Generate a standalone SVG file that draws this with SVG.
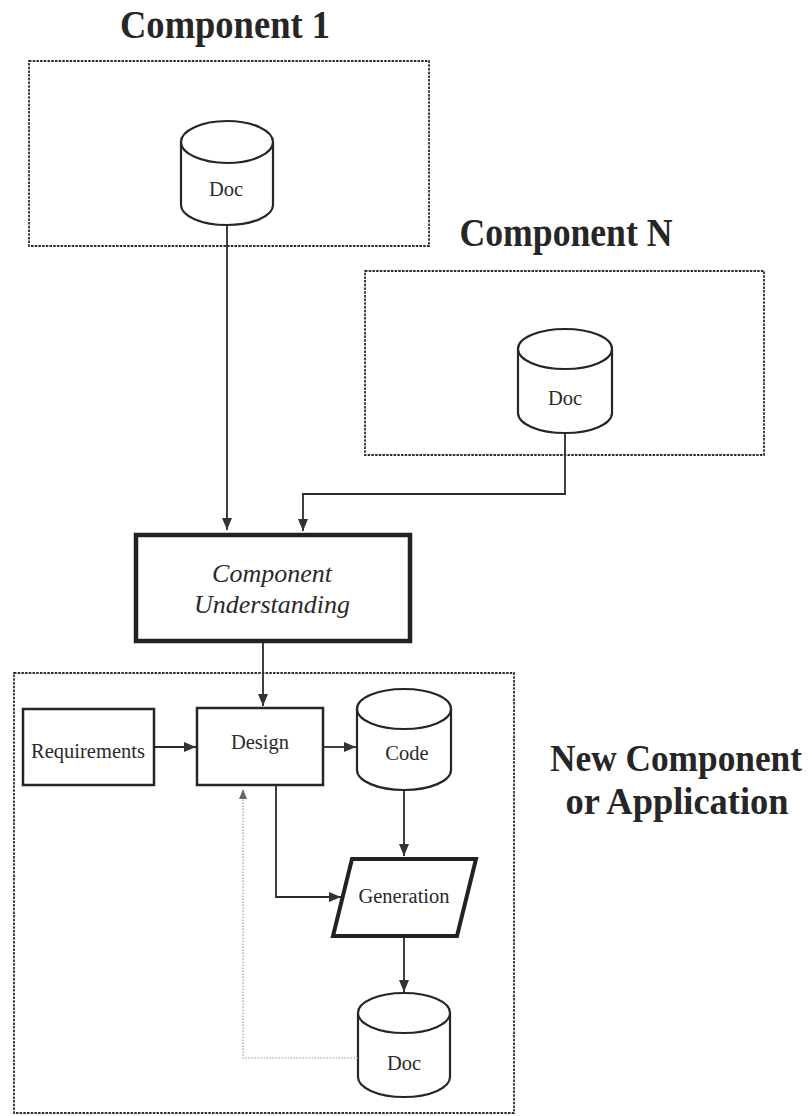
<svg xmlns="http://www.w3.org/2000/svg" width="812" height="1116" viewBox="0 0 812 1116">
  <style>
    .title { font-family: "Liberation Serif", "Times New Roman", serif; font-weight: bold; font-size: 40px; fill: #262626; text-anchor: middle; }
    .title2 { font-family: "Liberation Serif", "Times New Roman", serif; font-weight: bold; font-size: 37px; fill: #262626; text-anchor: middle; }
    .label { font-family: "Liberation Serif", "Times New Roman", serif; font-size: 20.5px; fill: #2a2a2a; text-anchor: middle; }
    .ital { font-family: "Liberation Serif", "Times New Roman", serif; font-style: italic; font-size: 26px; fill: #2a2a2a; text-anchor: middle; }
    .group { fill: none; stroke: #2e2e2e; stroke-width: 1.8; stroke-dasharray: 2.5 1.2; }
    .box { fill: #fff; stroke: #262626; stroke-width: 2.5; }
    .thick { fill: #fff; stroke: #222; stroke-width: 4.5; }
    .cyl { fill: #fff; stroke: #262626; stroke-width: 2.2; }
    .wire { fill: none; stroke: #2a2a2a; stroke-width: 1.8; }
    .back { fill: none; stroke: #9a9a9a; stroke-width: 1.2; stroke-dasharray: 1.5 1.5; }
  </style>
  <defs>
    <marker id="arrow" viewBox="0 0 12 10" refX="12" refY="5" markerWidth="12" markerHeight="10" markerUnits="userSpaceOnUse" orient="auto">
      <path d="M0,0 L12,5 L0,10 z" fill="#333"/>
    </marker>
    <marker id="arrowGrey" viewBox="0 0 10 8" refX="10" refY="4" markerWidth="10" markerHeight="8" markerUnits="userSpaceOnUse" orient="auto">
      <path d="M0,0 L10,4 L0,8 z" fill="#666"/>
    </marker>
  </defs>
  <rect width="812" height="1116" fill="#fff"/>

  <!-- Component 1 -->
  <g id="component-1">
    <text class="title" x="225" y="38" textLength="210" lengthAdjust="spacingAndGlyphs">Component 1</text>
    <rect class="group" x="29" y="61" width="400" height="185"/>
  </g>
  <g id="doc-1">
    <path class="cyl" d="M181,142 L181,205 A46,20 0 0 0 273,205 L273,142"/>
    <ellipse class="cyl" cx="227" cy="142" rx="46" ry="21"/>
    <text class="label" x="226" y="196">Doc</text>
  </g>

  <!-- Component N -->
  <g id="component-n">
    <text class="title" x="566" y="246" textLength="213" lengthAdjust="spacingAndGlyphs">Component N</text>
    <rect class="group" x="365" y="271" width="399" height="184"/>
  </g>
  <g id="doc-n">
    <path class="cyl" d="M518,349 L518,413 A47,20 0 0 0 612,413 L612,349"/>
    <ellipse class="cyl" cx="565" cy="349" rx="47" ry="20"/>
    <text class="label" x="565" y="405">Doc</text>
  </g>

  <!-- Component Understanding -->
  <g id="component-understanding">
    <rect class="thick" x="136" y="535" width="274" height="106"/>
    <text class="ital" x="272" y="582">Component</text>
    <text class="ital" x="272" y="613">Understanding</text>
  </g>

  <!-- New Component or Application -->
  <g id="new-component">
    <rect class="group" x="14" y="673" width="500" height="440"/>
    <text class="title2" x="676" y="771" textLength="252" lengthAdjust="spacingAndGlyphs">New Component</text>
    <text class="title2" x="677" y="814" textLength="223" lengthAdjust="spacingAndGlyphs">or Application</text>
  </g>
  <g id="requirements">
    <rect class="box" x="23" y="709" width="131" height="76"/>
    <text class="label" x="88" y="758">Requirements</text>
  </g>
  <g id="design">
    <rect class="box" x="197" y="708" width="126" height="77"/>
    <text class="label" x="260" y="749">Design</text>
  </g>
  <g id="code">
    <path class="cyl" d="M357,709 L357,770 A47,20 0 0 0 451,770 L451,709"/>
    <ellipse class="cyl" cx="404" cy="709" rx="47" ry="20"/>
    <text class="label" x="407" y="760">Code</text>
  </g>
  <g id="generation">
    <polygon points="352,859 476,859 457,936 333,936" fill="#fff" stroke="#222" stroke-width="4" stroke-linejoin="miter"/>
    <text class="label" x="404" y="903">Generation</text>
  </g>
  <g id="doc-new">
    <path class="cyl" d="M358,1013 L358,1077 A46,20 0 0 0 450,1077 L450,1013"/>
    <ellipse class="cyl" cx="404" cy="1013" rx="46" ry="20"/>
    <text class="label" x="404" y="1070">Doc</text>
  </g>

  <!-- Connectors -->
  <g id="connectors">
    <path class="wire" d="M227,225 L227,530" marker-end="url(#arrow)"/>
    <path class="wire" d="M565,433 L565,494 L303,494 L303,531" marker-end="url(#arrow)"/>
    <path class="wire" d="M263,643 L263,706" marker-end="url(#arrow)"/>
    <path class="wire" d="M155,747 L196,747" marker-end="url(#arrow)"/>
    <path class="wire" d="M324,747 L356,747" marker-end="url(#arrow)"/>
    <path class="wire" d="M404,790 L404,856" marker-end="url(#arrow)"/>
    <path class="wire" d="M276,786 L276,897 L341,897" marker-end="url(#arrow)"/>
    <path class="wire" d="M404,938 L404,992" marker-end="url(#arrow)"/>
    <path class="back" d="M358,1058 L243,1058 L243,789" marker-end="url(#arrowGrey)"/>
  </g>
</svg>
